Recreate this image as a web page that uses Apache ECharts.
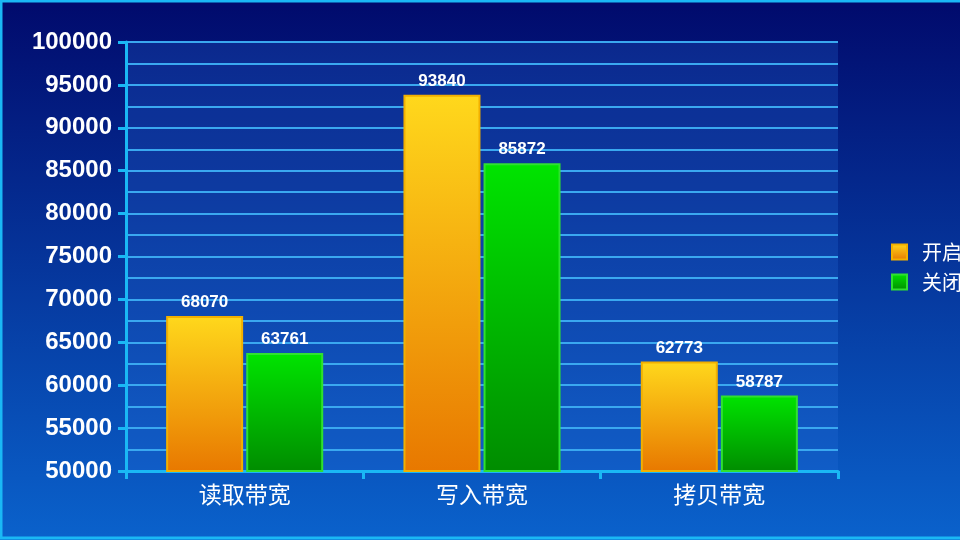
<!DOCTYPE html>
<html><head><meta charset="utf-8">
<script src="https://cdn.jsdelivr.net/npm/echarts@6/dist/echarts.min.js"></script>
<style>html,body{margin:0;padding:0;}#c{width:960px;height:540px;}</style>
</head><body><div id="c"></div>
<script>
const categories = ['读取带宽', '写入带宽', '拷贝带宽'];
const seriesNames = ['开启', '关闭'];
const openValues = [68070, 93840, 62773];
const closeValues = [63761, 85872, 58787];

const chart = echarts.init(document.getElementById('c'));
const lin = (a, b) => new echarts.graphic.LinearGradient(0, 0, 0, 1, [{offset: 0, color: a}, {offset: 1, color: b}]);
const labelStyle = {show: true, position: 'top', color: '#ffffff', fontSize: 17, fontWeight: 'bold', fontFamily: 'Liberation Sans, Arial, sans-serif', distance: 5};
chart.setOption({
  backgroundColor: lin('#010a6c', '#0a62cc'),
  animation: false,
  graphic: [{type: 'rect', shape: {x: 1, y: 1, width: 962, height: 537}, style: {fill: 'none', stroke: '#1ab8f5', lineWidth: 3}, z: 100}],
  grid: {left: 126, right: 122, top: 42, bottom: 69, show: true, backgroundColor: 'rgba(40,110,220,0.25)', borderWidth: 0},
  legend: {
    orient: 'vertical', left: 886, top: 237, itemWidth: 15, itemHeight: 15, itemGap: 10,
    icon: 'rect',
    textStyle: {color: '#ffffff', fontSize: 20, fontFamily: 'Noto Sans CJK SC', padding: [0, 0, 0, 10]},
    data: seriesNames
  },
  xAxis: {
    type: 'category', data: categories,
    axisLine: {lineStyle: {color: '#1ab8f5', width: 3}},
    axisTick: {show: true, length: 8, lineStyle: {color: '#1ab8f5', width: 3}},
    axisLabel: {color: '#ffffff', fontSize: 23, fontFamily: 'Noto Sans CJK SC', margin: 12}
  },
  yAxis: {
    type: 'value', min: 50000, max: 100000, interval: 5000,
    axisLine: {show: true, lineStyle: {color: '#1ab8f5', width: 3}},
    axisTick: {show: true, length: 8, lineStyle: {color: '#1ab8f5', width: 3}},
    axisLabel: {color: '#ffffff', fontSize: 24, fontWeight: 'bold', fontFamily: 'Liberation Sans, Arial, sans-serif', margin: 14,
      formatter: v => String(v)},
    splitLine: {show: true, lineStyle: {color: '#3aa8f0', width: 2}},
    minorTick: {show: false, splitNumber: 2},
    minorSplitLine: {show: true, lineStyle: {color: '#3aa8f0', width: 2}}
  },
  series: [
    {name: seriesNames[0], type: 'bar', data: openValues, barWidth: 77, barGap: '4%',
     itemStyle: {color: lin('#ffd81c', '#e87800'), borderColor: '#f2b000', borderWidth: 2},
     label: labelStyle},
    {name: seriesNames[1], type: 'bar', data: closeValues, barWidth: 77,
     itemStyle: {color: lin('#00e400', '#008c00'), borderColor: '#30e030', borderWidth: 2},
     label: labelStyle}
  ]
});
</script></body></html>
